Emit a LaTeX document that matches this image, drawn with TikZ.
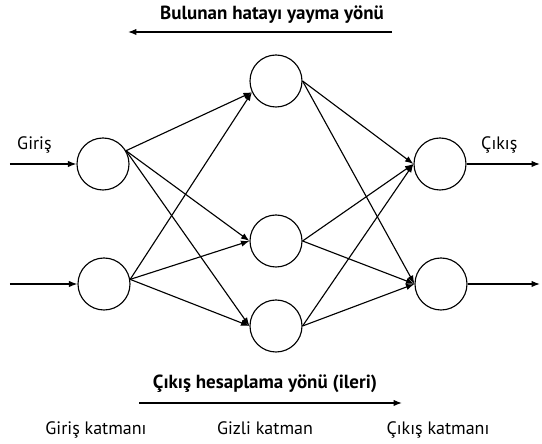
\documentclass[tikz,border=0pt]{standalone}
\usepackage{fontspec}
\setmainfont{PT Sans}
\usetikzlibrary{arrows.meta}

\begin{document}
\begin{tikzpicture}[x=0.025cm, y=-0.025cm, line width=0.8pt,
  >={Latex[length=6pt,width=4.5pt]},
  neuron/.style={draw, circle, minimum size=1.3cm, inner sep=0pt},
  lbl/.style={font=\fontsize{12.8}{15}\selectfont},
  title/.style={font=\fontsize{13.5}{16}\selectfont\bfseries}]
\useasboundingbox (0,0) rectangle (542,444);
% katmanlar
\node[neuron] (i1) at (103,164) {};
\node[neuron] (i2) at (104,284) {};
\node[neuron] (h1) at (276,81) {};
\node[neuron] (h2) at (276,241) {};
\node[neuron] (h3) at (276,326) {};
\node[neuron] (o1) at (440,164) {};
\node[neuron] (o2) at (441,284) {};
% giris ve cikis uclari
\coordinate (in1) at (10,164);
\coordinate (in2) at (10,284);
\coordinate (out1) at (540,164);
\coordinate (out2) at (540,284);
\draw[->] (in1) -- (i1.west);
\draw[->] (in2) -- (i2.west);
\draw[->] (o1.east) -- (out1);
\draw[->] (o2.east) -- (out2);
\node[lbl, anchor=south west] (giris) at (12,158) {Giriş};
\node[lbl, anchor=south west] (cikis) at (476,158) {Çıkış};
% baglantilar
\foreach \s/\a in {i1/30, i2/10} {
  \draw[->] (\s.\a) -- (h1.205);
  \draw[->] (\s.\a) -- (h2.west);
  \draw[->] (\s.\a) -- (h3.west);
}
\foreach \s in {h1, h2, h3} {
  \draw[->] (\s.east) -- (o1.west);
  \draw[->] (\s.east) -- (o2.west);
}
% yonler
\node[title] (geri) at (272,15) {Bulunan hatayı yayma yönü};
\coordinate (g1) at (392,32);
\coordinate (g2) at (128,32);
\draw[->] (g1) -- (g2);
\node[title] (ileri) at (265,384) {Çıkış hesaplama yönü (ileri)};
\coordinate (f1) at (139,403);
\coordinate (f2) at (402,403);
\draw[->] (f1) -- (f2);
% katman adlari
\node[lbl, anchor=base] (kg) at (96,435) {Giriş katmanı};
\node[lbl, anchor=base] (kh) at (265,435) {Gizli katman};
\node[lbl, anchor=base] (ko) at (438,435) {Çıkış katmanı};
\end{tikzpicture}
\end{document}
